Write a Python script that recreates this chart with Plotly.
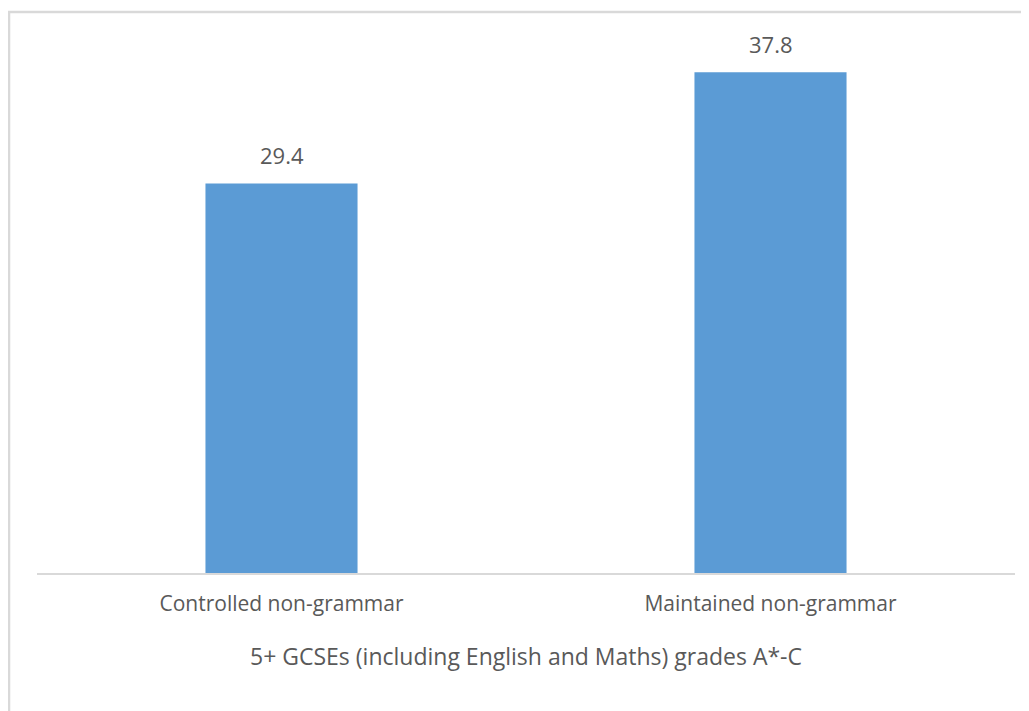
import plotly.graph_objects as go

categories = ["Controlled non-grammar", "Maintained non-grammar"]
values = [29.4, 37.8]
axis_title = "5+ GCSEs (including English and Maths) grades A*-C"

BAR_COLOR = "#5B9BD5"
TEXT_COLOR = "#595959"
GRID_COLOR = "#D9D9D9"
FONT = "Open Sans, Noto Sans, sans-serif"

fig = go.Figure(
    go.Bar(
        x=categories,
        y=values,
        marker_color=BAR_COLOR,
        marker_line_width=0,
        width=0.311,
    )
)

# 數值標籤
for cat, val in zip(categories, values):
    fig.add_annotation(
        x=cat, y=val, text=f"{val:.1f}",
        showarrow=False, yanchor="bottom", yshift=11,
        font=dict(size=22, color=TEXT_COLOR, family=FONT),
    )

# 外框
fig.add_shape(
    type="rect", xref="paper", yref="paper",
    x0=-0.0286, x1=1.1, y0=-0.5, y1=1.0585,
    line=dict(color=GRID_COLOR, width=2.5),
)

# 頁面 body 有 8px 邊距，尺寸與邊界相應縮減
fig.update_layout(
    width=1021,
    height=703,
    margin=dict(l=29, r=14, t=35, b=138),
    plot_bgcolor="white",
    paper_bgcolor="white",
    showlegend=False,
    font=dict(family=FONT, color=TEXT_COLOR, size=21),
)

fig.update_xaxes(
    showline=True, linecolor=GRID_COLOR, linewidth=1.5,
    ticks="outside", ticklen=11, tickcolor="white",
    tickfont=dict(size=21, color=TEXT_COLOR),
    title=dict(text=axis_title, font=dict(size=23, color=TEXT_COLOR), standoff=33),
    showgrid=False, zeroline=False,
)
fig.update_yaxes(
    range=[0, 40], visible=False, showgrid=False, zeroline=False,
)

fig.write_html("out.html")
